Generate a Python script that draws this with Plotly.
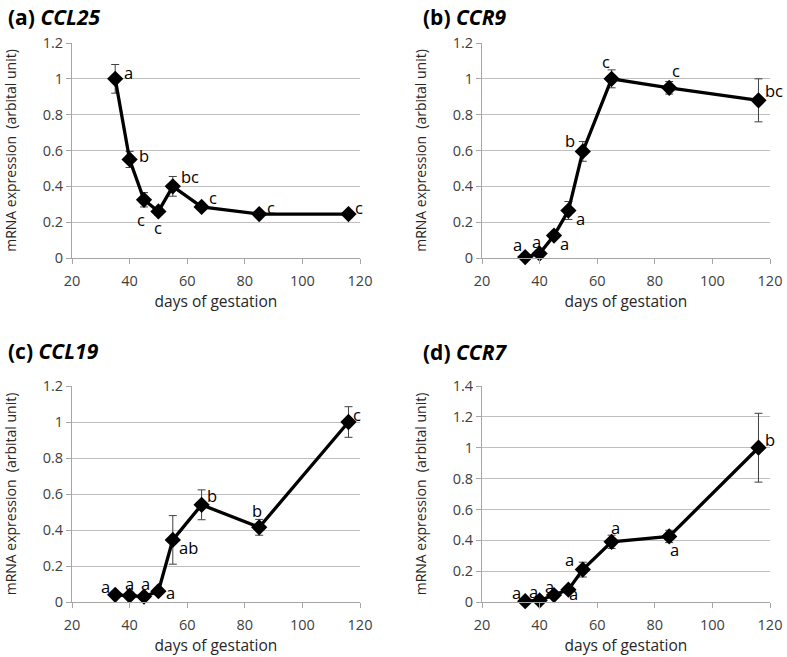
import plotly.graph_objects as go

days = [35, 40, 45, 50, 55, 65, 85, 116]

ccl25 = [1.0, 0.55, 0.325, 0.26, 0.40, 0.285, 0.245, 0.245]
ccl25_err = [0.08, 0.045, 0.04, 0.02, 0.055, 0.015, 0.01, 0.015]
ccl25_sig = ["a", "b", "c", "c", "bc", "c", "c", "c"]

ccr9 = [0.005, 0.025, 0.125, 0.265, 0.595, 1.0, 0.95, 0.88]
ccr9_err = [0.003, 0.01, 0.015, 0.05, 0.055, 0.05, 0.035, 0.12]
ccr9_sig = ["a", "a", "a", "a", "b", "c", "c", "bc"]

ccl19 = [0.04, 0.035, 0.03, 0.06, 0.345, 0.54, 0.415, 1.0]
ccl19_err = [0.005, 0.005, 0.005, 0.01, 0.135, 0.083, 0.044, 0.085]
ccl19_sig = ["a", "a", "a", "a", "ab", "b", "b", "c"]

ccr7 = [0.005, 0.01, 0.045, 0.08, 0.21, 0.39, 0.425, 1.0]
ccr7_err = [0.005, 0.005, 0.01, 0.012, 0.048, 0.043, 0.04, 0.223]
ccr7_sig = ["a", "a", "a", "a", "a", "a", "a", "b"]

titles = ["(a) ", "(b) ", "(c) ", "(d) "]
genes = ["CCL25", "CCR9", "CCL19", "CCR7"]
y_max = [1.2, 1.2, 1.2, 1.4]

# label placement offsets (pixels, dx right, dy down)
offs = [
    [(13, -6), (14, -4), (-3, 20), (0, 16), (17, -10), (11, -9), (12, -7), (11, -7)],
    [(-8, -13), (-3, -12), (10, 8), (12, 8), (-13, -11), (-6, -17), (7, -17), (16, -10)],
    [(-10, -8), (0, -12), (1, -13), (12, 1), (16, 8), (10, -9), (-2, -17), (9, -8)],
    [(-9, -9), (-6, -9), (-5, -9), (5, 4), (-13, -10), (4, -14), (5, 13), (12, -8)],
]

W, H = 787, 657
# panel boxes in page pixels: x0, x1, ytop, ybottom
boxes = [(72, 360, 43, 258), (482, 770, 43, 258), (72, 360, 386, 602), (482, 770, 386, 602)]
title_pos = [(6, 17), (421, 17), (6, 351), (421, 352)]

series = [(ccl25, ccl25_err, ccl25_sig), (ccr9, ccr9_err, ccr9_sig),
          (ccl19, ccl19_err, ccl19_sig), (ccr7, ccr7_err, ccr7_sig)]

fig = go.Figure()
annotations = []
font_main = "Open Sans, Liberation Sans, sans-serif"
grid_c = "#bfbfbf"
axis_c = "#a6a6a6"

for i, (vals, errs, sigs) in enumerate(series):
    n = "" if i == 0 else str(i + 1)
    x0, x1, yt, yb = boxes[i]
    fig.add_trace(go.Scatter(
        x=days, y=vals, mode="lines+markers",
        line=dict(color="black", width=3.3),
        marker=dict(symbol="diamond", size=12.5, color="black"),
        error_y=dict(type="data", array=errs, visible=True, color="#404040", thickness=1, width=4),
        xaxis="x" + n, yaxis="y" + n, showlegend=False, cliponaxis=False,
    ))
    fig.layout["xaxis" + n] = dict(
        domain=[x0 / W, x1 / W], anchor="y" + n, range=[20, 120], dtick=20,
        showgrid=False, zeroline=False, showline=True, linecolor=axis_c, linewidth=1,
        ticks="outside", ticklen=5, tickcolor=axis_c, automargin=False, ticklabelstandoff=5,
        tickfont=dict(size=14.5, color="#404040", family=font_main),
        title=dict(text="days of gestation", font=dict(size=15.5, color="#262626", family=font_main), standoff=0),
        fixedrange=True,
    )
    fig.layout["yaxis" + n] = dict(
        domain=[1 - yb / H, 1 - yt / H], anchor="x" + n, range=[0, y_max[i]], dtick=0.2,
        showgrid=True, gridcolor=grid_c, gridwidth=1, zeroline=False,
        showline=True, linecolor=axis_c, linewidth=1,
        ticks="outside", ticklen=5, tickcolor=axis_c, automargin=False,
        tickfont=dict(size=14.5, color="#404040", family=font_main),
        title=dict(text="mRNA expression  (arbital unit)", font=dict(size=14, color="#262626", family=font_main), standoff=22),
        fixedrange=True,
    )
    for k, (d, v, s) in enumerate(zip(days, vals, sigs)):
        dx, dy = offs[i][k]
        annotations.append(dict(
            x=d, y=v, xref="x" + n, yref="y" + n, text=s, showarrow=False,
            xshift=dx, yshift=-dy, font=dict(size=16.5, color="black", family=font_main),
        ))
    tx, ty = title_pos[i]
    annotations.append(dict(
        x=tx / W, y=1 - ty / H, xref="paper", yref="paper", xanchor="left", yanchor="middle",
        text="<b>" + titles[i] + "<i>" + genes[i] + "</i></b>", showarrow=False,
        font=dict(size=21, color="black", family=font_main),
    ))

fig.update_layout(
    width=W, height=H, margin=dict(l=0, r=0, t=0, b=0),
    paper_bgcolor="white", plot_bgcolor="white", annotations=annotations,
)

fig.write_html(
    "out.html",
    config={"displayModeBar": False},
    post_script="document.body.style.margin='0';document.body.style.overflow='hidden';",
)
